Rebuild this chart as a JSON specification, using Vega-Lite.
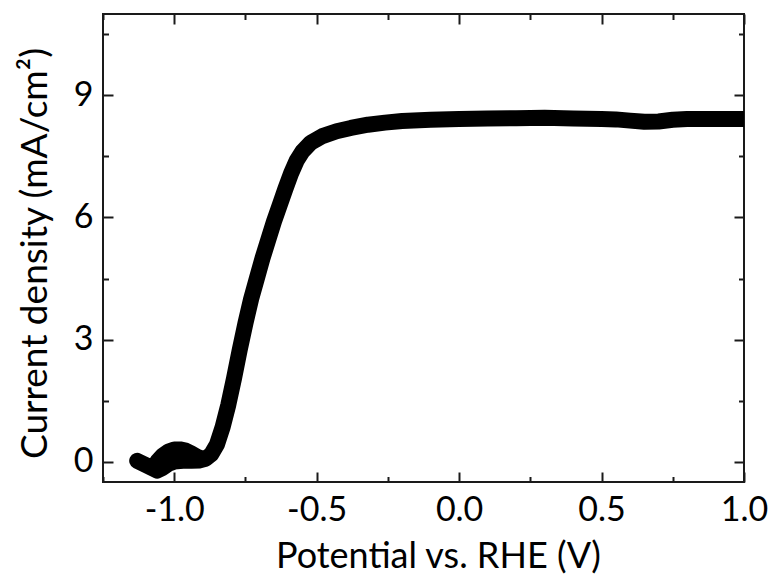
{
  "$schema": "https://vega.github.io/schema/vega-lite/v6.json",
  "width": 641,
  "height": 468,
  "autosize": {"type": "none"},
  "padding": {"left": 103, "top": 14, "right": 26, "bottom": 92},
  "background": "white",
  "config": {
    "view": {"stroke": "#1a1a1a", "strokeWidth": 2},
    "font": "Lato",
    "axis": {"grid": false, "domain": false, "tickColor": "#1a1a1a", "tickWidth": 2, "labelFont": "Lato", "titleFont": "Lato", "labelColor": "black", "titleColor": "black", "titleFontWeight": "normal"}
  },
  "datasets": {
    "main": [
      {"potential": -1.13, "current": 0.02},
      {"potential": -1.11, "current": -0.05},
      {"potential": -1.08, "current": -0.15},
      {"potential": -1.06, "current": -0.22},
      {"potential": -1.04, "current": -0.15},
      {"potential": -1.02, "current": -0.05},
      {"potential": -1.0, "current": 0.0},
      {"potential": -0.97, "current": 0.02},
      {"potential": -0.94, "current": 0.02},
      {"potential": -0.91, "current": 0.03},
      {"potential": -0.89, "current": 0.07},
      {"potential": -0.87, "current": 0.18},
      {"potential": -0.85, "current": 0.42},
      {"potential": -0.83, "current": 0.85},
      {"potential": -0.81, "current": 1.4},
      {"potential": -0.79, "current": 2.05},
      {"potential": -0.77, "current": 2.75},
      {"potential": -0.75, "current": 3.4},
      {"potential": -0.73, "current": 4.0},
      {"potential": -0.71, "current": 4.5},
      {"potential": -0.69, "current": 5.0},
      {"potential": -0.67, "current": 5.45},
      {"potential": -0.65, "current": 5.9},
      {"potential": -0.63, "current": 6.3},
      {"potential": -0.61, "current": 6.7},
      {"potential": -0.59, "current": 7.08},
      {"potential": -0.57, "current": 7.4},
      {"potential": -0.55, "current": 7.62},
      {"potential": -0.52, "current": 7.84},
      {"potential": -0.48, "current": 8.0},
      {"potential": -0.43, "current": 8.12},
      {"potential": -0.38, "current": 8.2},
      {"potential": -0.32, "current": 8.28},
      {"potential": -0.26, "current": 8.33},
      {"potential": -0.2, "current": 8.37},
      {"potential": -0.1, "current": 8.4},
      {"potential": 0.0, "current": 8.42},
      {"potential": 0.1, "current": 8.43},
      {"potential": 0.2, "current": 8.44},
      {"potential": 0.3, "current": 8.45},
      {"potential": 0.4, "current": 8.43},
      {"potential": 0.5, "current": 8.42},
      {"potential": 0.55, "current": 8.41},
      {"potential": 0.6, "current": 8.38},
      {"potential": 0.65, "current": 8.35},
      {"potential": 0.7, "current": 8.36},
      {"potential": 0.75, "current": 8.4},
      {"potential": 0.8, "current": 8.42},
      {"potential": 0.9, "current": 8.42},
      {"potential": 1.0, "current": 8.42}
    ],
    "bump": [
      {"potential": -1.06, "current": 0.0},
      {"potential": -1.04, "current": 0.15},
      {"potential": -1.02, "current": 0.25},
      {"potential": -1.0, "current": 0.3},
      {"potential": -0.98, "current": 0.3},
      {"potential": -0.96, "current": 0.27},
      {"potential": -0.94, "current": 0.2},
      {"potential": -0.92, "current": 0.12},
      {"potential": -0.9, "current": 0.07}
    ]
  },
  "layer": [
    {
      "data": {"name": "main"},
      "mark": {"type": "line", "color": "black", "strokeWidth": 16, "strokeCap": "round", "strokeJoin": "round", "clip": true},
      "encoding": {
        "x": {
          "field": "potential", "type": "quantitative",
          "scale": {"domain": [-1.25, 1.0], "nice": false, "zero": false},
          "axis": {
            "orient": "bottom",
            "title": "Potential vs. RHE (V)",
            "values": [-1.25, -1, -0.75, -0.5, -0.25, 0, 0.25, 0.5, 0.75, 1],
            "tickSize": {"condition": {"test": "abs(datum.value*2 - round(datum.value*2)) < 0.001", "value": -10}, "value": -5.5},
            "labelExpr": "abs(datum.value*2 - round(datum.value*2)) < 0.001 ? replace(format(datum.value, '.1f'), '\u2212', '-') : ''",
            "labelFontSize": 34,
            "labelPadding": 48,
            "labelBaseline": "alphabetic",
            "labelFlush": false,
            "labelOverlap": false,
            "titleFontSize": 36,
            "titleX": 335,
            "titleY": 85,
            "titleAlign": "center",
            "titleBaseline": "alphabetic"
          }
        },
        "y": {
          "field": "current", "type": "quantitative",
          "scale": {"domain": [-0.5, 11], "nice": false, "zero": false},
          "axis": {
            "orient": "left",
            "title": "Current density (mA/cm²)",
            "values": [0, 1.5, 3, 4.5, 6, 7.5, 9, 10.5],
            "tickSize": {"condition": {"test": "datum.value % 3 == 0", "value": -10}, "value": -5.5},
            "labelExpr": "datum.value % 3 == 0 ? format(datum.value, 'd') : ''",
            "labelFontSize": 34,
            "labelPadding": 20,
            "labelAlign": "right",
            "labelBaseline": "middle",
            "labelOverlap": false,
            "titleFontSize": 37,
            "titleAngle": -90,
            "titleX": -57,
            "titleY": 239,
            "titleAlign": "center",
            "titleBaseline": "alphabetic"
          }
        }
      }
    },
    {
      "data": {"name": "bump"},
      "mark": {"type": "line", "color": "black", "strokeWidth": 16, "strokeCap": "round", "strokeJoin": "round", "clip": true},
      "encoding": {
        "x": {
          "field": "potential", "type": "quantitative",
          "axis": {
            "orient": "top",
            "title": null,
            "labels": false,
            "values": [-1.25, -1, -0.75, -0.5, -0.25, 0, 0.25, 0.5, 0.75, 1],
            "tickSize": {"condition": {"test": "abs(datum.value*2 - round(datum.value*2)) < 0.001", "value": -10}, "value": -5.5}
          }
        },
        "y": {
          "field": "current", "type": "quantitative",
          "axis": {
            "orient": "right",
            "title": null,
            "labels": false,
            "values": [0, 1.5, 3, 4.5, 6, 7.5, 9, 10.5],
            "tickSize": {"condition": {"test": "datum.value % 3 == 0", "value": -10}, "value": -5.5}
          }
        }
      }
    }
  ],
  "resolve": {"axis": {"x": "independent", "y": "independent"}}
}
